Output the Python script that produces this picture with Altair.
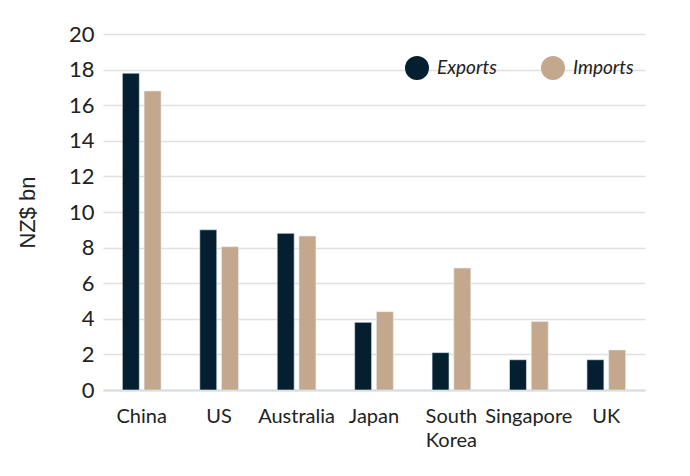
import altair as alt
import pandas as pd

countries = ["China", "US", "Australia", "Japan", "South Korea", "Singapore", "UK"]
exports = [17.8, 9.0, 8.8, 3.8, 2.1, 1.7, 1.7]
imports = [16.8, 8.05, 8.65, 4.4, 6.85, 3.85, 2.25]
series = ["Exports", "Imports"]
colors = ["#041f30", "#c4a88e"]
y_ticks = list(range(0, 21, 2))

rows = []
for c, e, i in zip(countries, exports, imports):
    rows.append({"country": c, "series": "Exports", "value": e})
    rows.append({"country": c, "series": "Imports", "value": i})
df = pd.DataFrame(rows)

chart = alt.Chart(df).mark_bar(stroke="#e8ecef", strokeWidth=0.6).encode(
    x=alt.X("country:N", sort=countries,
            scale=alt.Scale(paddingInner=0.5, paddingOuter=0.25),
            axis=alt.Axis(title=None, labelAngle=0, ticks=False, domain=True,
                          domainColor="#d6dce2", domainWidth=2,
                          labelFont="Lato", labelFontSize=20, labelColor="#222",
                          labelPadding=16, labelLineHeight=24,
                          labelExpr="datum.label == 'South Korea' ? ['South', 'Korea'] : datum.label")),
    xOffset=alt.XOffset("series:N", sort=series, scale=alt.Scale(paddingInner=0.22)),
    y=alt.Y("value:Q", scale=alt.Scale(domain=[0, 20], nice=False),
            axis=alt.Axis(title="NZ$ bn", values=y_ticks, ticks=False, domain=False,
                          gridColor="#e0e0e0", gridWidth=1.5,
                          labelFont="Lato", labelFontSize=22, labelColor="#222",
                          labelPadding=9,
                          titleFont="Liberation Sans", titleFontSize=22, titleFontWeight="normal",
                          titleColor="#222", titlePadding=29)),
    color=alt.Color("series:N", sort=series,
                    scale=alt.Scale(domain=series, range=colors),
                    legend=alt.Legend(title=None, orient="none", legendX=302, legendY=22,
                                      direction="horizontal", symbolType="circle",
                                      symbolSize=576, symbolStrokeWidth=0,
                                      labelFont="Lato", labelFontStyle="italic",
                                      labelFontSize=19, labelColor="#222",
                                      columnPadding=44, labelOffset=8)),
).properties(
    width=542, height=356,
    padding={"left": 95, "top": 26, "right": 37, "bottom": 70},
    autosize=alt.AutoSizeParams(type="none"),
).configure_view(stroke=None)

chart.save("out.html", embed_options={"renderer": "svg", "actions": False})
